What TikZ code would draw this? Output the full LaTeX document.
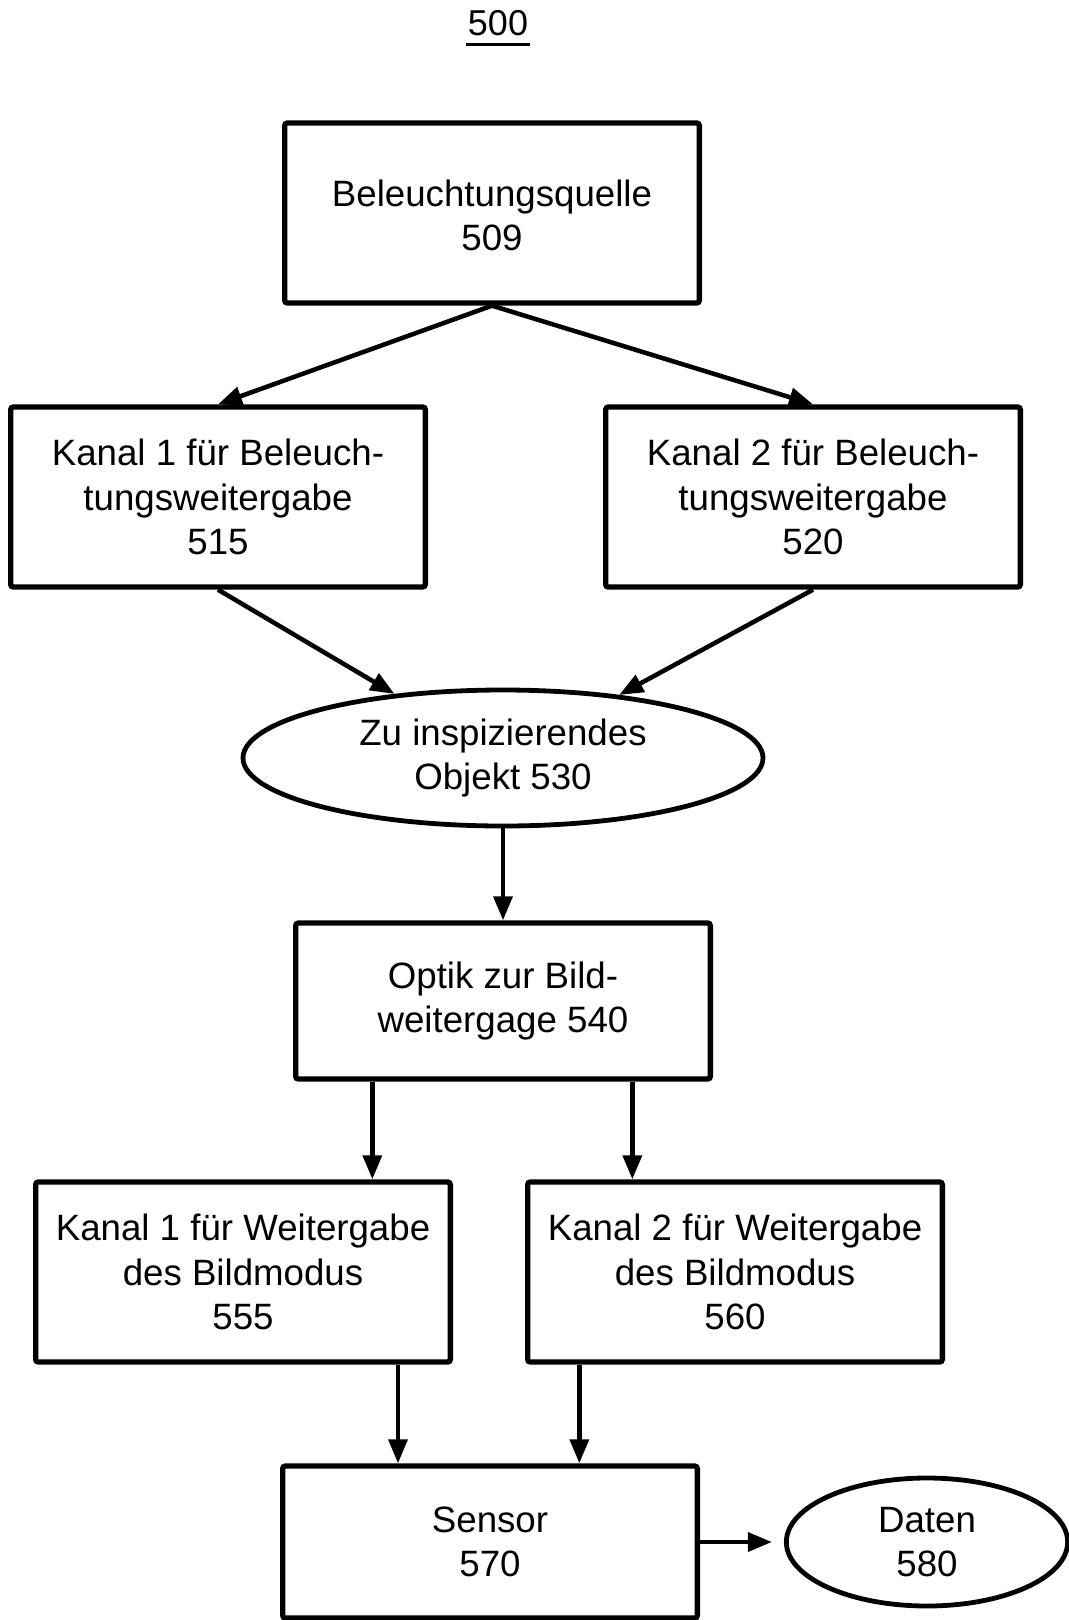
\documentclass[tikz,border=0pt]{standalone}
\usepackage{fontspec}
\setmainfont{Liberation Sans}
\usetikzlibrary{arrows.meta,shapes.geometric}

\begin{document}
\begin{tikzpicture}[->,>={Triangle[length=18pt,width=14pt]},line width=3.4pt,
        x=0.75pt,y=-0.75pt,
        box/.style={draw,rectangle,rounded corners=2pt,line width=4pt,
            minimum width=311pt,minimum height=135pt,align=center,
            font=\fontsize{27.5}{33.4}\selectfont},
        oval/.style={draw,ellipse,line width=3.6pt,inner sep=0pt,align=center,
            font=\fontsize{27.5}{33.4}\selectfont}]

    \useasboundingbox (0,0) rectangle (1068,1620);

    \node[font=\fontsize{27}{30}\selectfont,inner xsep=0pt,inner ysep=5pt] (500) at (498,23) {500};
    \draw[-,line width=2.4pt] (500.south west) -- (500.south east);

    \node[box] (509) at (492,213) {\strut Beleuchtungsquelle\\509};
    \node[box] (515) at (218,497) {Kanal 1 für Beleuch-\\tungsweitergabe\\515};
    \node[box] (520) at (813,497) {Kanal 2 für Beleuch-\\tungsweitergabe\\520};
    \node[oval,minimum width=390pt,minimum height=102pt] (530) at (503,758) {Zu inspizierendes\\Objekt 530};
    \node[box,minimum height=117pt] (540) at (503,1001) {Optik zur Bild-\\weitergage 540};
    \node[box] (555) at (243,1272) {Kanal 1 für Weitergabe\\des Bildmodus\\555};
    \node[box] (560) at (735,1272) {Kanal 2 für Weitergabe\\des Bildmodus\\560};
    \node[box,minimum height=114pt] (570) at (490,1542) {Sensor\\570};
    \node[oval,minimum width=211pt,minimum height=96pt] (580) at (927,1542) {Daten\\580};

    \coordinate (a1) at ([xshift=-98pt]540.south);
    \coordinate (a2) at ([xshift=97pt]540.south);
    \coordinate (b1) at ([xshift=-69pt]570.north);
    \coordinate (b2) at ([xshift=67pt]570.north);

    \path (509.south) edge (515.north);
    \path (509.south) edge (520.north);
    \path (515.south) edge (530);
    \path (520.south) edge (530);
    \path (530.south) edge (540.north);
    \path (a1) edge (a1 |- 555.north);
    \path (a2) edge (a2 |- 560.north);
    \path (b1 |- 555.south) edge (b1);
    \path (b2 |- 560.south) edge (b2);
    \path (570.east) edge[shorten >=9pt] (580.west);

\end{tikzpicture}
\end{document}
